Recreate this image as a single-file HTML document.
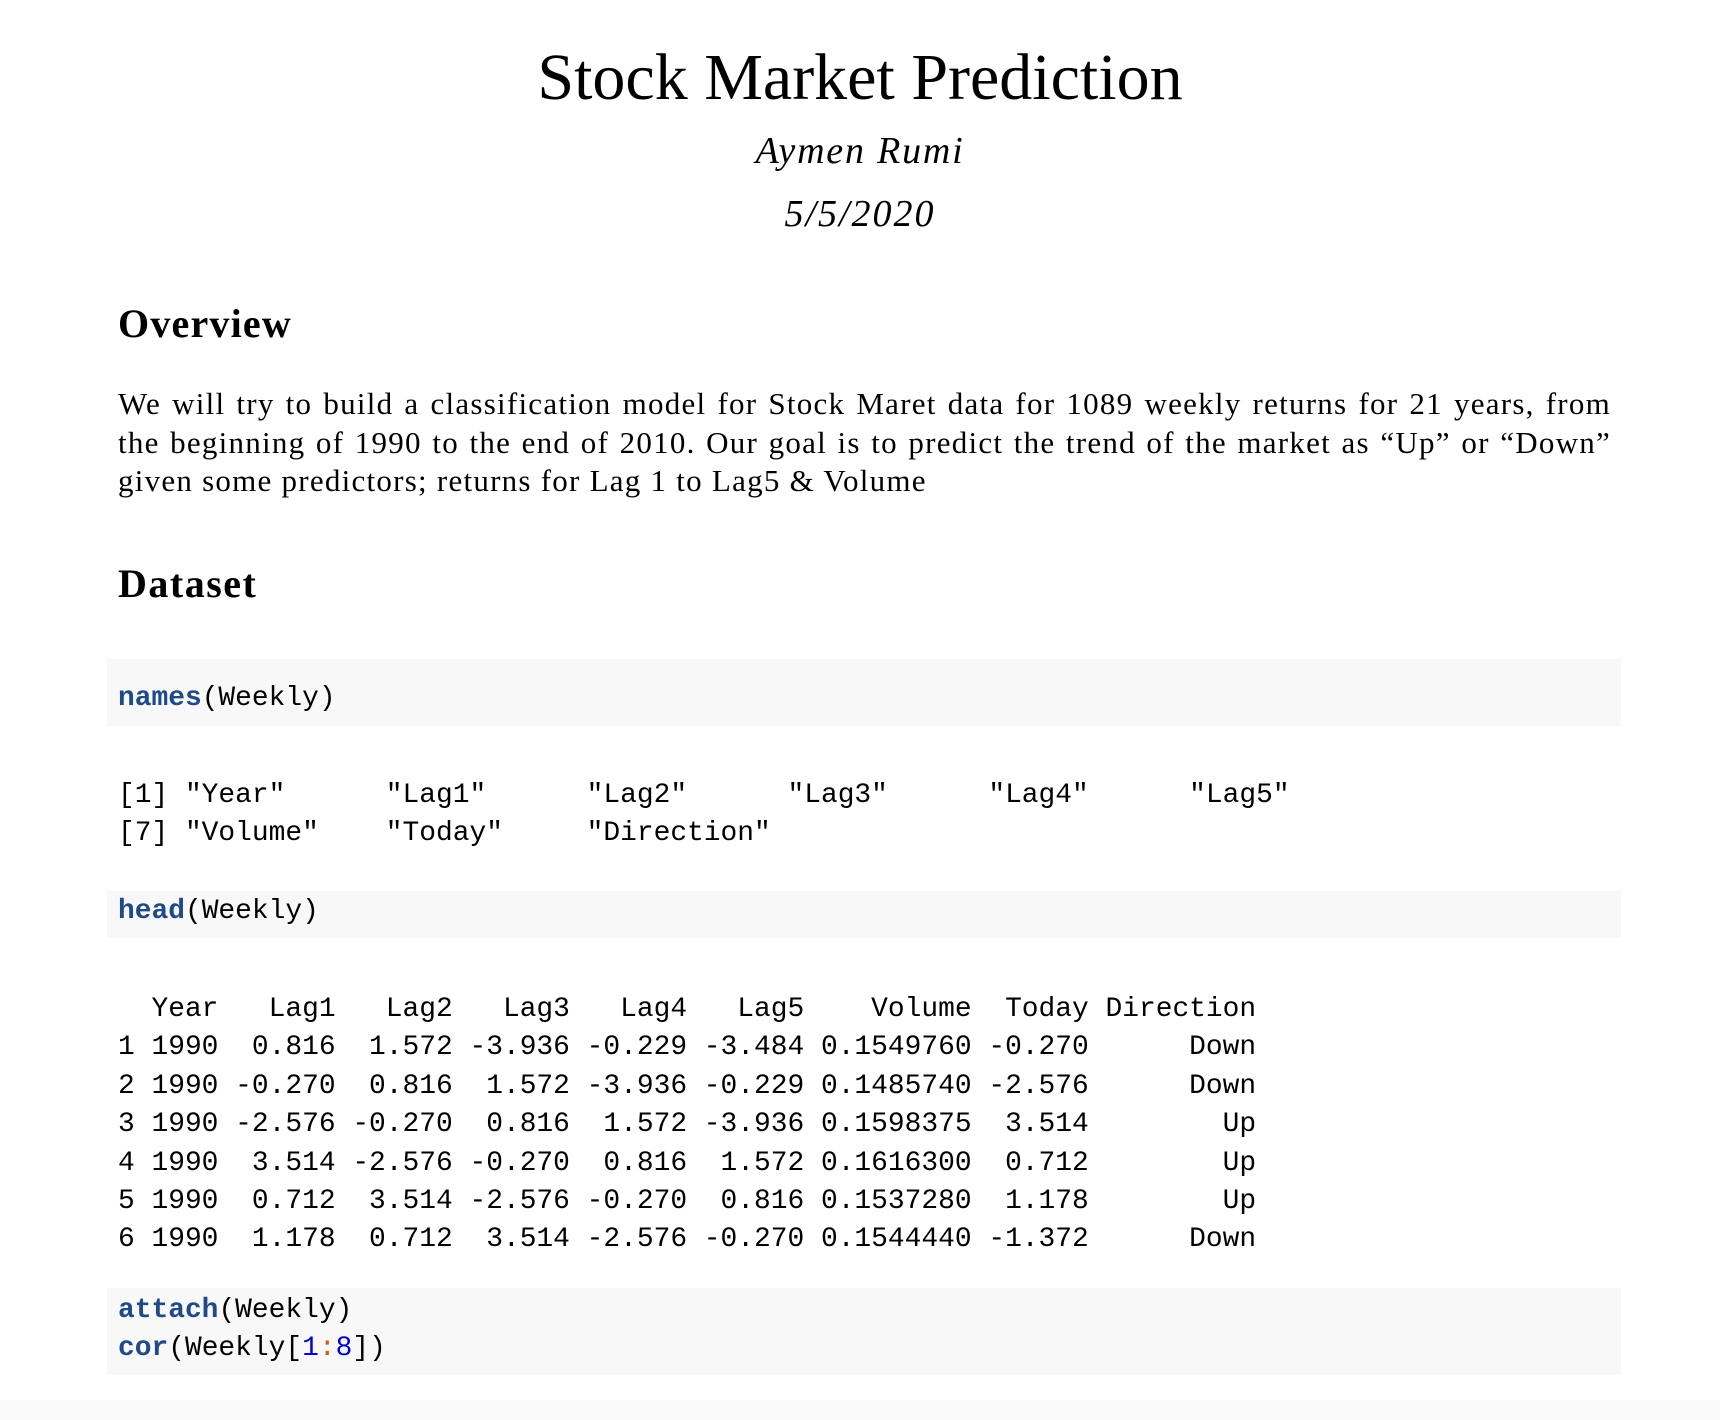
<!DOCTYPE html>
<html><head><meta charset="utf-8">
<style>
html,body{margin:0;padding:0;}
body{width:1720px;height:1420px;position:relative;background:#fff;overflow:hidden;color:#000;}
.s{font-family:"Liberation Serif",serif;position:absolute;white-space:nowrap;}
.c{position:absolute;left:0;width:1720px;text-align:center;}
.m{font-family:"Liberation Mono",monospace;font-size:27.9px;position:absolute;left:118px;white-space:pre;line-height:38.4px;margin:0;}
.blk{position:absolute;left:107px;width:1514px;background:#f8f8f8;}
.f{color:#204a87;font-weight:bold;}
.n{color:#0000cf;}
.o{color:#ce5c00;}
.p{position:absolute;left:118px;width:1493px;font-family:"Liberation Serif",serif;font-size:31px;letter-spacing:1.25px;line-height:38.5px;text-align:justify;text-align-last:left;}
</style></head><body>
<div class="s c" style="top:38px;font-size:66px;line-height:80px;">Stock Market Prediction</div>
<div class="s c" style="top:129px;font-size:38px;letter-spacing:1.8px;line-height:44px;font-style:italic;">Aymen Rumi</div>
<div class="s c" style="top:192px;font-size:38px;letter-spacing:2px;line-height:44px;font-style:italic;">5/5/2020</div>

<div class="s" style="left:118px;top:302px;font-size:40px;letter-spacing:1.2px;line-height:44px;font-weight:bold;">Overview</div>
<div class="p" style="top:385px;">We will try to build a classification model for Stock Maret data for 1089 weekly returns for 21 years, from the beginning of 1990 to the end of 2010. Our goal is to predict the trend of the market as “Up” or “Down” given some predictors; returns for Lag 1 to Lag5 &amp; Volume</div>

<div class="s" style="left:118px;top:562px;font-size:40px;letter-spacing:1.5px;line-height:44px;font-weight:bold;">Dataset</div>

<div class="blk" style="top:659px;height:67px;"></div>
<pre class="m" style="top:680px;"><span class="f">names</span>(Weekly)</pre>

<pre class="m" style="top:777px;">[1] "Year"      "Lag1"      "Lag2"      "Lag3"      "Lag4"      "Lag5"
[7] "Volume"    "Today"     "Direction"</pre>

<div class="blk" style="top:891px;height:47px;"></div>
<pre class="m" style="top:893px;"><span class="f">head</span>(Weekly)</pre>

<pre class="m" style="top:991px;">  Year   Lag1   Lag2   Lag3   Lag4   Lag5    Volume  Today Direction
1 1990  0.816  1.572 -3.936 -0.229 -3.484 0.1549760 -0.270      Down
2 1990 -0.270  0.816  1.572 -3.936 -0.229 0.1485740 -2.576      Down
3 1990 -2.576 -0.270  0.816  1.572 -3.936 0.1598375  3.514        Up
4 1990  3.514 -2.576 -0.270  0.816  1.572 0.1616300  0.712        Up
5 1990  0.712  3.514 -2.576 -0.270  0.816 0.1537280  1.178        Up
6 1990  1.178  0.712  3.514 -2.576 -0.270 0.1544440 -1.372      Down</pre>

<div class="blk" style="top:1288px;height:87px;"></div>
<pre class="m" style="top:1292px;"><span class="f">attach</span>(Weekly)
<span class="f">cor</span>(Weekly[<span class="n">1</span><span class="o">:</span><span class="n">8</span>])</pre>

<div style="position:absolute;left:0;top:1400px;width:1720px;height:20px;background:#fafafa;"></div>
</body></html>
